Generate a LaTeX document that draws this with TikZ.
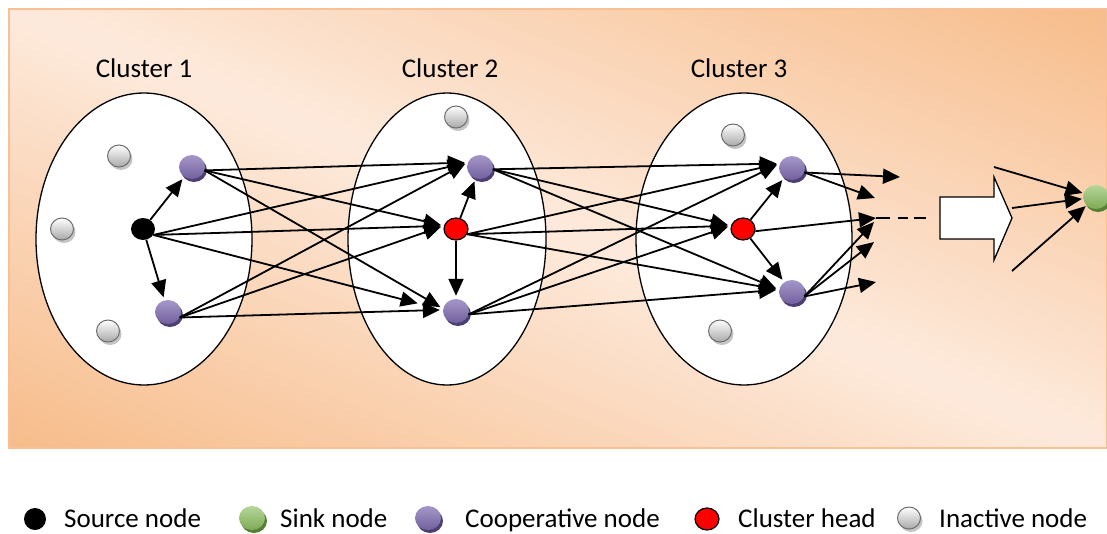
\documentclass[tikz,border=0pt]{standalone}
\usepackage{fontspec}
\setmainfont{Carlito}
\usetikzlibrary{arrows.meta,shapes.geometric,shadows}
\definecolor{bgdark}{HTML}{F7BC8A}
\definecolor{bglight}{HTML}{FDEADC}
\definecolor{bgborder}{HTML}{F8C195}
\definecolor{purpTop}{HTML}{A497C8}
\definecolor{purpBot}{HTML}{73609E}
\definecolor{purpSh}{HTML}{4E3F72}
\definecolor{grnTop}{HTML}{B5D69A}
\definecolor{grnBot}{HTML}{7FAA55}
\definecolor{grnSh}{HTML}{557F33}
\definecolor{gryBot}{HTML}{A8A8A8}
\definecolor{gryLine}{HTML}{6E6E6E}
\definecolor{grySh}{HTML}{C4C4C4}
\begin{document}
\begin{tikzpicture}[x=1pt,y=-1pt,
  ball/.style={ellipse, minimum width=26pt, minimum height=24pt, inner sep=0pt},
  coop/.style={ball, top color=purpTop, bottom color=purpBot,
    general shadow={shadow xshift=2pt, shadow yshift=-3pt, fill=purpSh}},
  sinkb/.style={ball, top color=grnTop, bottom color=grnBot,
    general shadow={shadow xshift=2pt, shadow yshift=-3pt, fill=grnSh}},
  inact/.style={ball, minimum width=23pt, minimum height=22pt, draw=gryLine, line width=1pt,
    top color=white, bottom color=gryBot,
    general shadow={shadow xshift=2pt, shadow yshift=-3pt, fill=grySh}},
  srcb/.style={ball, minimum width=24pt, minimum height=22pt, fill=black},
  head/.style={ball, minimum width=24pt, minimum height=22pt, fill=red, draw=black, line width=1.2pt},
  cluster/.style={draw=black, fill=white, line width=1.3pt},
  lbl/.style={font=\fontsize{27}{30}\selectfont, anchor=base, inner sep=0pt},
  leg/.style={font=\fontsize{27}{30}\selectfont, anchor=base west, inner sep=0pt},
  arr/.style={-{Triangle[length=17pt,width=15pt]}, line width=1.8pt, shorten >=3pt},
  blk/.style={draw=black, fill=white, line width=1.3pt, line join=miter}
]
\useasboundingbox (0,0) rectangle (1107,533);
\fill[white] (0,0) rectangle (1107,533);
% background gradient (isolines along the main diagonal)
\begin{scope}
  \clip (9,9) rectangle (1107,448);
  \begin{scope}[shift={(558,228)}, rotate=-21.8]
    \foreach \i in {-42,...,41}{
      \pgfmathsetmacro\p{max(0,100-abs(\i*10+5)/4.1)}
      \fill[bglight!\p!bgdark] (-800,\i*10) rectangle (800,\i*10+11);
    }
  \end{scope}
\end{scope}
\draw[draw=bgborder, line width=2pt] (9,9) rectangle (1107,448);

% clusters
\draw[cluster] (144,239) ellipse [x radius=108, y radius=146];
\draw[cluster] (447,239) ellipse [x radius=99, y radius=146];
\draw[cluster] (744,239) ellipse [x radius=108, y radius=146];
\node[lbl] (l1) at (144,77) {Cluster 1};
\node[lbl] (l2) at (450,77) {Cluster 2};
\node[lbl] (l3) at (739,77) {Cluster 3};

% cluster 1
\node[inact] (g11) at (119,156) {};
\node[inact] (g12) at (62,229) {};
\node[inact] (g13) at (108,331) {};
\node[coop] (p1a) at (192,167) {};
\node[coop] (p1b) at (168,312) {};
\node[srcb] (src) at (143,229) {};
% cluster 2
\node[inact] (g21) at (456,117) {};
\node[coop] (p2a) at (480,167) {};
\node[coop] (p2b) at (456,311) {};
\node[head] (h2) at (456,229) {};
% cluster 3
\node[inact] (g31) at (733,135) {};
\node[inact] (g32) at (720,331) {};
\node[coop] (p3a) at (792,168) {};
\node[coop] (p3b) at (792,292) {};
\node[head] (h3) at (743,229) {};
% sink
\node[sinkb] (sink) at (1096,197) {};

% internal arrows
\draw[arr] (src) -- (p1a);
\draw[arr] (src) -- (p1b);
\draw[arr] (h2) -- (p2a);
\draw[arr] (h2) -- (p2b);
\draw[arr] (h3) -- (p3a);
\draw[arr] (h3) -- (p3b);

% cluster 1 -> cluster 2
\foreach \s/\a in {p1a/-15,src/-30,p1b/-25}{
  \draw[arr] (\s.\a) -- (p2a.160);
  \draw[arr] (\s.\a) -- (h2.165);
}
\draw[arr] (p1a.-15) -- (p2b.170);
\draw[arr] (p1b.-25) -- (p2b.175);
\draw[arr, shorten >=26pt] (src.-30) -- (p2b.175);

% cluster 2 -> cluster 3
\foreach \s/\a in {p2a/-10,h2/-25,p2b/-15}{
  \draw[arr] (\s.\a) -- (p3a.160);
  \draw[arr] (\s.\a) -- (h3.165);
  \draw[arr] (\s.\a) -- (p3b.170);
}

% outputs of cluster 3
\coordinate (o1) at (900,177);
\coordinate (o2) at (875,198);
\coordinate (o3) at (876,218);
\coordinate (o3b) at (874,222);
\coordinate (o4) at (874,242);
\coordinate (o5) at (876,282);
\draw[arr, shorten >=0pt] (p3a.-20) -- (o1);
\draw[arr, shorten >=0pt] (p3a.-20) -- (o2);
\draw[arr, shorten >=0pt] (h3.-10) -- (o3);
\draw[arr, shorten >=0pt] (p3b.-20) -- (o3b);
\draw[arr, shorten >=0pt] (p3b.-20) -- (o4);
\draw[arr, shorten >=0pt] (p3b.-20) -- (o5);
\coordinate (d1) at (926,218);
\draw[line width=1.6pt, dash pattern=on 14pt off 8pt on 10pt off 6pt] (o3) -- (d1);

% block arrow
\draw[blk] (940,197) -- (994,197) -- (994,177) -- (1012,218) -- (994,260) -- (994,239) -- (940,239) -- cycle;

% lines to sink
\coordinate (s1) at (994,167);
\coordinate (s2) at (1012,208);
\coordinate (s3) at (1012,271);
\draw[arr, shorten >=1pt] (s1) -- (sink);
\draw[arr, shorten >=1pt] (s2) -- (sink);
\draw[arr, shorten >=1pt] (s3) -- (sink);

% legend
\node[srcb, minimum width=22pt, minimum height=22pt] (k1) at (35,519) {};
\node[leg] (t1) at (64,527) {Source node};
\node[sinkb] (k2) at (252,518) {};
\node[leg] (t2) at (280,527) {Sink node};
\node[coop] (k3) at (428,518) {};
\node[leg] (t3) at (465,527) {Cooperative node};
\node[head] (k4) at (707,519) {};
\node[leg] (t4) at (738,527) {Cluster head};
\node[inact] (k5) at (909,518) {};
\node[leg] (t5) at (939,527) {Inactive node};
\end{tikzpicture}
\end{document}
